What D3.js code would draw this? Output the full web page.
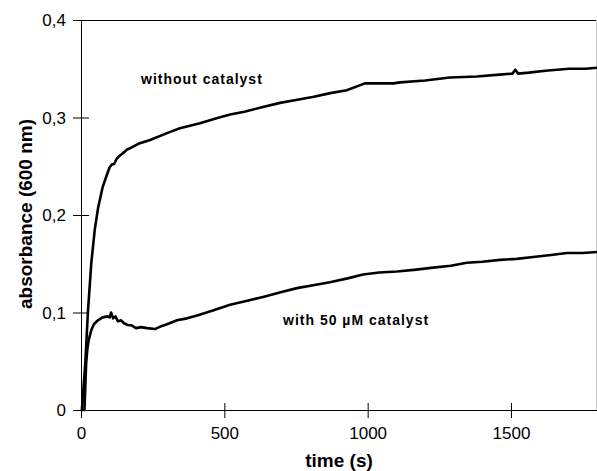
<!DOCTYPE html>
<html>
<head>
<meta charset="utf-8">
<script src="https://cdn.jsdelivr.net/npm/d3@7"></script>
<style>
  body { margin: 0; background: #fff; }
  svg { display: block; font-family: "Liberation Sans", Arial, sans-serif; }
</style>
</head>
<body>
<svg id="chart"></svg>
<script>
// data
var timeNoCat = [0, 3, 15, 24, 36, 48, 60, 75, 90, 100, 108, 115, 125, 136, 145, 160, 175, 200, 241, 300, 345, 415, 470, 520, 570, 624, 694, 750, 808, 870, 927, 990, 1090, 1113, 1200, 1287, 1380, 1460, 1505, 1515, 1525, 1562, 1620, 1702, 1760, 1800];
var absNoCat = [0, 0, 0.048, 0.10, 0.151, 0.185, 0.208, 0.228, 0.241, 0.249, 0.252, 0.252, 0.258, 0.261, 0.263, 0.267, 0.269, 0.273, 0.277, 0.284, 0.289, 0.294, 0.299, 0.303, 0.306, 0.310, 0.315, 0.318, 0.321, 0.325, 0.328, 0.335, 0.335, 0.336, 0.338, 0.341, 0.342, 0.344, 0.345, 0.349, 0.345, 0.346, 0.348, 0.350, 0.350, 0.351];

var timeCat = [0, 12, 18, 22, 27, 36, 45, 59, 75, 94, 100, 105, 112, 120, 129, 140, 150, 164, 175, 192, 210, 230, 258, 280, 300, 335, 370, 405, 460, 520, 580, 635, 700, 753, 810, 868, 930, 984, 1040, 1102, 1170, 1228, 1290, 1346, 1400, 1462, 1520, 1577, 1640, 1695, 1750, 1800];
var absCat = [0, 0, 0.048, 0.062, 0.072, 0.082, 0.088, 0.092, 0.095, 0.096, 0.095, 0.100, 0.094, 0.096, 0.091, 0.092, 0.089, 0.087, 0.087, 0.084, 0.085, 0.084, 0.083, 0.086, 0.088, 0.092, 0.094, 0.097, 0.102, 0.108, 0.112, 0.116, 0.121, 0.125, 0.128, 0.131, 0.135, 0.139, 0.141, 0.142, 0.144, 0.146, 0.148, 0.151, 0.152, 0.154, 0.155, 0.157, 0.159, 0.161, 0.161, 0.162];

var xTicks = [0, 500, 1000, 1500];
var yTicks = [0, 0.1, 0.2, 0.3, 0.4];

var w = 597;
var h = 471;
// plot box (note: "top" is reserved on window, so use other names)
var plotL = 81, plotR = 597, plotT = 20, plotB = 410;

var svg = d3.select("#chart")
            .attr("width", w)
            .attr("height", h);

svg.append("rect")
    .attr("width", w)
    .attr("height", h)
    .attr("fill", "#fff");

var xScale = d3.scaleLinear().domain([0, 1800]).range([plotL, plotR]);
var yScale = d3.scaleLinear().domain([0, 0.4]).range([plotB, plotT]);

// frame: top line and faint right edge
svg.append("line")
    .attr("x1", plotL).attr("x2", plotR)
    .attr("y1", yScale(0.4) + 0.5).attr("y2", yScale(0.4) + 0.5)
    .attr("stroke", "#000").attr("stroke-width", 1);
svg.append("line")
    .attr("x1", plotR - 0.5).attr("x2", plotR - 0.5)
    .attr("y1", plotT).attr("y2", plotB)
    .attr("stroke", "#ccc").attr("stroke-width", 1);

// x axis, ticks cross the line
var xAxis = d3.axisBottom(xScale)
    .tickValues(xTicks)
    .tickSize(0)
    .tickPadding(0)
    .tickFormat(d3.format("d"));

var gx = svg.append("g")
    .attr("transform", "translate(0," + plotB + ")")
    .call(xAxis);
gx.select(".domain").attr("stroke", "#000").attr("d", "M" + (plotL - 8) + ",0.5H" + plotR);
gx.selectAll(".tick line").attr("y1", -7).attr("y2", 8).attr("stroke", "#000");
gx.selectAll(".tick text")
    .attr("y", 29)
    .attr("dy", 0)
    .attr("font-size", 17)
    .attr("font-family", "Liberation Sans, Arial, sans-serif")
    .attr("fill", "#000");

// y axis
var yAxis = d3.axisLeft(yScale)
    .tickValues(yTicks)
    .tickSize(0)
    .tickPadding(0)
    .tickFormat(function(d) { return d === 0 ? "0" : d3.format(".1f")(d).replace(".", ","); });

var gy = svg.append("g")
    .attr("transform", "translate(" + plotL + ",0)")
    .call(yAxis);
gy.select(".domain").attr("stroke", "#000").attr("d", "M0.5," + plotT + "V" + (plotB + 8));
gy.selectAll(".tick line").attr("x1", -8).attr("x2", 8).attr("stroke", "#000");
gy.selectAll(".tick text")
    .attr("x", -15)
    .attr("dy", "0.35em")
    .attr("font-size", 17)
    .attr("font-family", "Liberation Sans, Arial, sans-serif")
    .attr("fill", "#000");

// curves
var line = d3.line()
    .x(function(d) { return xScale(d[0]); })
    .y(function(d) { return yScale(d[1]); });

svg.append("path")
    .datum(d3.zip(timeNoCat, absNoCat))
    .attr("d", line)
    .attr("fill", "none")
    .attr("stroke", "#000")
    .attr("stroke-width", 2.6)
    .attr("stroke-linejoin", "round");

svg.append("path")
    .datum(d3.zip(timeCat, absCat))
    .attr("d", line)
    .attr("fill", "none")
    .attr("stroke", "#000")
    .attr("stroke-width", 2.6)
    .attr("stroke-linejoin", "round");

// curve labels
svg.append("text")
    .attr("x", 141)
    .attr("y", 84)
    .attr("font-size", 14)
    .attr("font-weight", "bold")
    .attr("letter-spacing", 1)
    .text("without catalyst");

svg.append("text")
    .attr("x", 283)
    .attr("y", 325)
    .attr("font-size", 14)
    .attr("font-weight", "bold")
    .attr("letter-spacing", 1)
    .text("with 50 µM catalyst");

// axis titles
svg.append("text")
    .attr("text-anchor", "middle")
    .attr("x", (plotL + plotR) / 2)
    .attr("y", 467)
    .attr("font-size", 19)
    .attr("font-weight", "bold")
    .text("time (s)");

svg.append("text")
    .attr("text-anchor", "middle")
    .attr("transform", "translate(32," + 214 + ") rotate(-90)")
    .attr("font-size", 19)
    .attr("font-weight", "bold")
    .text("absorbance (600 nm)");
</script>
</body>
</html>
